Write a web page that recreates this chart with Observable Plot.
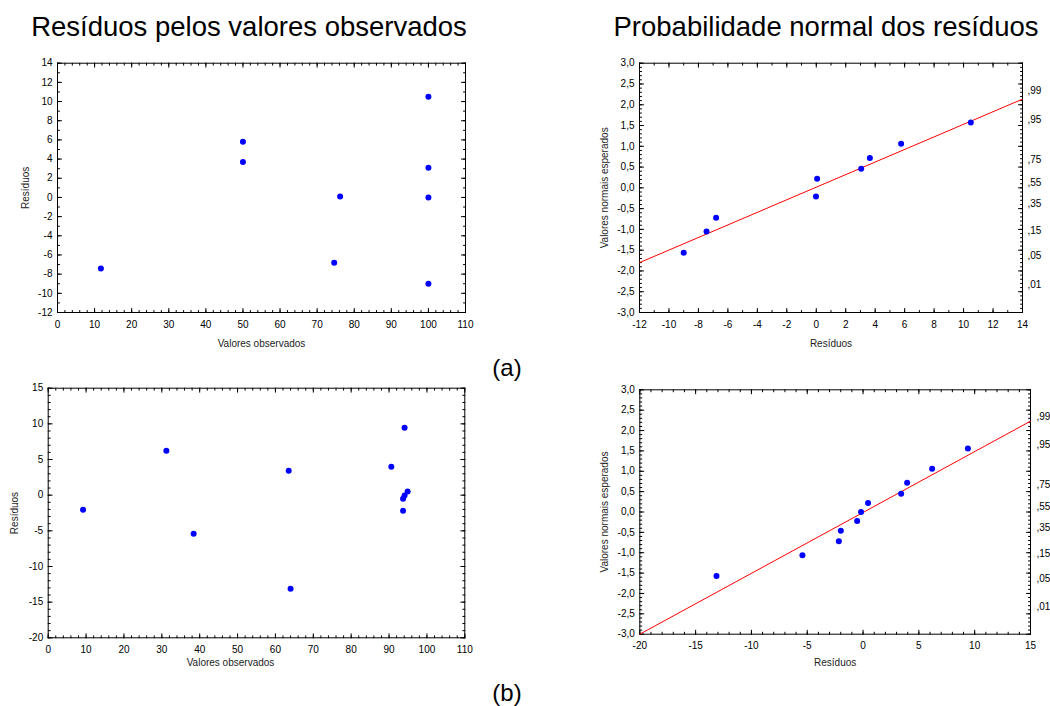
<!DOCTYPE html>
<html><head><meta charset="utf-8">
<script src="https://cdn.jsdelivr.net/npm/d3@7"></script>
<script src="https://cdn.jsdelivr.net/npm/@observablehq/plot@0.6"></script>
<style>
body{margin:0;background:#fff;}
#root{position:relative;width:1050px;height:706px;overflow:hidden;font-family:"Liberation Sans",Arial,sans-serif;background:#fff;}
.t{position:absolute;white-space:nowrap;color:#000;text-align:center;}
.panel{position:absolute;}
</style></head><body><div id="root">
<div class="t" style="left:-51px;width:600px;top:10px;font-size:27.5px;line-height:34px">Resíduos pelos valores observados</div>
<div class="t" style="left:526px;width:600px;top:10px;font-size:27.5px;line-height:34px">Probabilidade normal dos resíduos</div>
<div class="t" style="left:457px;width:100px;top:353px;font-size:24px;line-height:30px">(a)</div>
<div class="t" style="left:457px;width:100px;top:678px;font-size:24px;line-height:30px">(b)</div>
</div>
<script>
// ---- Data (a) ----
const obsA = [11.7, 50, 50, 76.2, 74.6, 100, 100, 100, 100];
const resA = [-7.4, 5.8, 3.7, 0.1, -6.8, 10.5, 3.1, 0.0, -9.0];
const qqResA = [-9.0, -7.45, -6.8, -0.02, 0.06, 3.05, 3.64, 5.76, 10.49];
const qqZA = [-1.56, -1.05, -0.72, -0.21, 0.22, 0.46, 0.72, 1.06, 1.57];
const fitXA = [-12, 14];
const fitYA = [-1.80, 2.135];
// ---- Data (b) ----
const obsB = [9.2, 31.2, 38.4, 63.5, 64.0, 90.6, 94.1, 94.9, 94.1, 93.7, 93.7];
const resB = [-2.06, 6.22, -5.42, 3.41, -13.13, 3.97, 9.44, 0.51, -0.05, -0.51, -2.2];
const qqResB = [-13.13, -5.43, -2.17, -1.99, -0.53, -0.18, 0.45, 3.41, 3.95, 6.19, 9.39];
const qqZB = [-1.57, -1.06, -0.72, -0.46, -0.22, 0.0, 0.22, 0.45, 0.72, 1.06, 1.56];
const fitXB = [-20, 15];
const fitYB = [-3.0, 2.23];
// ---- Probability axis ----
const probLabels = [",01", ",05", ",15", ",35", ",55", ",75", ",95", ",99"];
const probZ = [-2.326, -1.645, -1.036, -0.385, 0.126, 0.674, 1.645, 2.326];
// ---- Tick labels ----
const xTicksA = d3.range(0, 111, 10), yTicksA = d3.range(-12, 15, 2);
const xTicksQA = d3.range(-12, 15, 2), zTicks = d3.range(-3, 3.01, 0.5);
const xTicksB = d3.range(0, 111, 10), yTicksB = d3.range(-20, 16, 5);
const xTicksQB = d3.range(-20, 16, 5);

const FONT = '"Liberation Sans", Arial, sans-serif';
const tickShape = {draw(ctx, l) { ctx.moveTo(0, 0); ctx.lineTo(0, -l); }};
const commaFmt = d => d.toFixed(1).replace(".", ",");
const intFmt = d => String(Math.round(d));

function edgeTicks(vals, axis, len) {
  const out = [];
  if (axis === "x") {
    out.push(Plot.vector(vals, {x: d => d, frameAnchor: "bottom", rotate: 0, length: len, anchor: "start", shape: tickShape, stroke: "#000", strokeWidth: 1}));
    out.push(Plot.vector(vals, {x: d => d, frameAnchor: "top", rotate: 180, length: len, anchor: "start", shape: tickShape, stroke: "#000", strokeWidth: 1}));
  } else {
    out.push(Plot.vector(vals, {y: d => d, frameAnchor: "left", rotate: 90, length: len, anchor: "start", shape: tickShape, stroke: "#000", strokeWidth: 1}));
    out.push(Plot.vector(vals, {y: d => d, frameAnchor: "right", rotate: -90, length: len, anchor: "start", shape: tickShape, stroke: "#000", strokeWidth: 1}));
  }
  return out;
}

function panel(o) {
  const pts = o.px.map((x, i) => ({x, y: o.py[i]}));
  const marks = [
    ...edgeTicks(o.xMinor, "x", 2), ...edgeTicks(o.yMinor, "y", 2),
    ...edgeTicks(o.xTicks, "x", 4), ...edgeTicks(o.yTicks, "y", 4),
    Plot.frame({stroke: "#000", strokeWidth: 1}),
    Plot.axisX({ticks: o.xTicks, tickSize: 0, tickPadding: 8, tickFormat: o.xFmt, label: null, fontSize: 10, fill: "#000"}),
    Plot.axisY({ticks: o.yTicks, tickSize: 0, tickPadding: 5, tickFormat: o.yFmt, label: null, fontSize: 10, fill: "#000"}),
    Plot.text([o.xTitle], {text: d => d, frameAnchor: "bottom", dy: o.xTitleDy, dx: o.xTitleDx || 0, textAnchor: "middle", lineAnchor: "middle", fontSize: o.titleSize || 10, fill: "#222"}),
    Plot.text([o.yTitle], {text: d => d, frameAnchor: "left", dx: o.yTitleDx, rotate: -90, textAnchor: "middle", lineAnchor: "middle", fontSize: o.titleSize || 10, fill: "#222"})
  ];
  if (o.line) {
    const ln = o.line[0].map((x, i) => ({x, y: o.line[1][i]}));
    marks.push(Plot.line(ln, {x: "x", y: "y", stroke: "#ff0000", strokeWidth: 1}));
  }
  if (o.prob) {
    const pr = probZ.map((z, i) => ({z, label: probLabels[i]}));
    marks.push(Plot.text(pr, {y: "z", text: "label", frameAnchor: "right", dx: o.probDx, textAnchor: "start", lineAnchor: "middle", fontSize: 10, fill: "#000"}));
  }
  marks.push(Plot.dot(pts, {x: "x", y: "y", r: 3, fill: "#0000ff", stroke: "none"}));
  const svg = Plot.plot({
    width: o.width, height: o.height,
    marginLeft: o.mL, marginRight: o.mR, marginTop: o.mT, marginBottom: o.mB,
    x: {domain: o.xDom}, y: {domain: o.yDom},
    style: {fontFamily: FONT, fontSize: "10px", background: "transparent", color: "#000"},
    marks
  });
  const wrap = document.createElement("div");
  wrap.className = "panel";
  wrap.style.left = o.left + "px";
  wrap.style.top = o.top + "px";
  wrap.appendChild(svg);
  document.getElementById("root").appendChild(wrap);
}

// (a) left: residuals vs observed
panel({left: 0, top: 50, width: 480, height: 300, mL: 57, mR: 15, mT: 12.7, mB: 38,
  xDom: [0, 110], yDom: [-12, 14], xTicks: xTicksA, yTicks: yTicksA,
  xMinor: d3.range(0, 111, 2), yMinor: d3.range(-12, 15, 1),
  xFmt: intFmt, yFmt: intFmt, px: obsA, py: resA,
  xTitle: "Valores observados", yTitle: "Resíduos", xTitleDy: 31, yTitleDx: -32});

// (a) right: normal probability
panel({left: 590, top: 50, width: 460, height: 300, mL: 49, mR: 28, mT: 12.7, mB: 38,
  xDom: [-12, 14], yDom: [-3, 3], xTicks: xTicksQA, yTicks: zTicks,
  xMinor: d3.range(-12, 15, 1), yMinor: d3.range(-3, 3.001, 0.1),
  xFmt: intFmt, yFmt: commaFmt, px: qqResA, py: qqZA, line: [fitXA, fitYA], prob: true, probDx: 5,
  xTitle: "Resíduos", yTitle: "Valores normais esperados", xTitleDy: 31, yTitleDx: -35});

// (b) left
panel({left: 0, top: 375, width: 480, height: 300, mL: 47.7, mR: 15.7, mT: 12.7, mB: 37.7,
  xDom: [0, 110], yDom: [-20, 15], xTicks: xTicksB, yTicks: yTicksB,
  xMinor: d3.range(0, 111, 2), yMinor: d3.range(-20, 16, 1),
  xFmt: intFmt, yFmt: intFmt, px: obsB, py: resB,
  xTitle: "Valores observados", yTitle: "Resíduos", xTitleDy: 25, xTitleDx: -26, yTitleDx: -33});

// (b) right
panel({left: 590, top: 375, width: 460, height: 300, mL: 49.3, mR: 20, mT: 14.3, mB: 41.3,
  xDom: [-20, 15], yDom: [-3, 3], xTicks: xTicksQB, yTicks: zTicks,
  xMinor: d3.range(-20, 16, 1), yMinor: d3.range(-3, 3.001, 0.1),
  xFmt: intFmt, yFmt: commaFmt, px: qqResB, py: qqZB, line: [fitXB, fitYB], prob: true, probDx: 6,
  xTitle: "Resíduos", yTitle: "Valores normais esperados", xTitleDy: 29, yTitleDx: -35});
</script>
</body></html>
